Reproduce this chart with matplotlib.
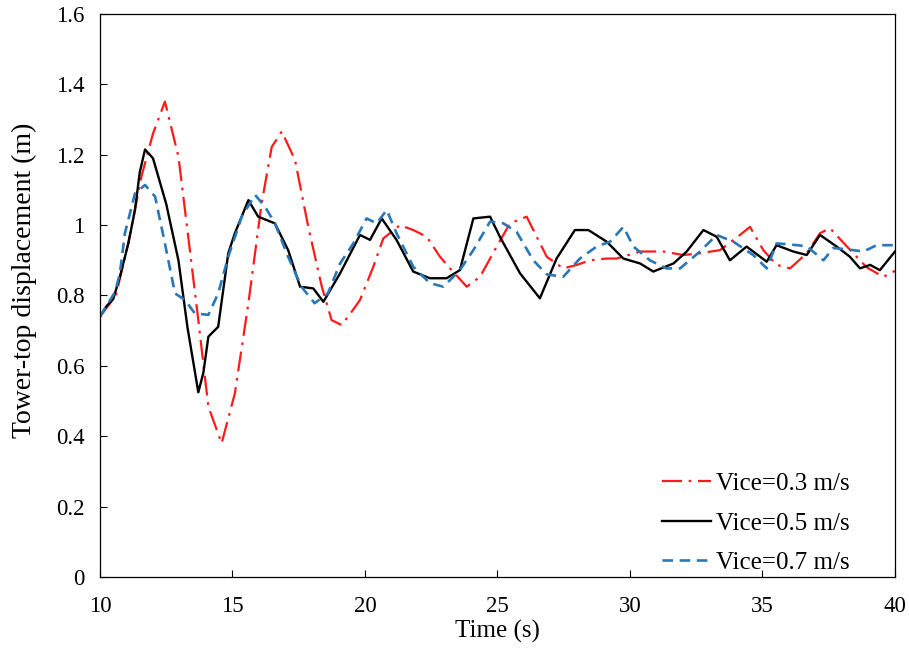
#!/usr/bin/env python3
"""
Tower-top displacement vs time for three ice speeds.
"""

import matplotlib
matplotlib.use("Agg")
import matplotlib.pyplot as plt

t_03 = [10.0, 10.6, 11.07, 11.57, 12.0, 12.45, 12.96, 13.33, 13.71, 14.09, 14.59, 15.09,
        15.6, 16.1, 16.48, 16.86, 17.36, 17.86, 18.37, 18.74, 19.12, 19.5, 19.81, 20.31,
        20.69, 21.32, 21.82, 22.33, 22.83, 23.21, 23.84, 24.34, 24.97, 25.47, 26.1, 26.48,
        26.86, 27.48, 28.0, 28.49, 29.12, 29.5, 30.38, 31.26, 32.01, 32.64, 33.4, 34.15,
        34.53, 35.03, 35.53, 36.04, 36.67, 37.17, 37.55, 38.3, 38.93, 39.56, 40.0]
v_03 = [0.74, 0.80, 0.95, 1.14, 1.26, 1.351, 1.195, 0.967, 0.73, 0.484, 0.38, 0.522,
        0.778, 1.062, 1.222, 1.266, 1.185, 0.995, 0.825, 0.73, 0.716, 0.754, 0.787, 0.881,
        0.962, 1.0, 0.986, 0.967, 0.91, 0.877, 0.825, 0.853, 0.939, 1.005, 1.024, 0.967,
        0.91, 0.877, 0.887, 0.90, 0.905, 0.905, 0.925, 0.925, 0.915, 0.92, 0.929, 0.972,
        0.995, 0.929, 0.887, 0.877, 0.92, 0.977, 0.991, 0.93, 0.88, 0.853, 0.87]

t_05 = [10.0, 10.25, 10.5, 10.75, 11.07, 11.32, 11.5, 11.7, 12.0, 12.5, 12.96, 13.3, 13.71,
        13.9, 14.09, 14.46, 14.84, 15.09, 15.6, 15.97, 16.6, 17.1, 17.55, 18.05, 18.43, 19.06,
        19.81, 20.19, 20.63, 21.19, 21.82, 22.45, 23.08, 23.58, 24.09, 24.72, 25.09, 25.85,
        26.6, 27.23, 27.92, 28.43, 29.12, 29.75, 30.38, 30.88, 31.64, 32.14, 32.77, 33.27,
        33.77, 34.4, 35.16, 35.53, 36.16, 36.67, 37.17, 37.8, 38.3, 38.68, 39.06, 39.43, 40.0]
v_05 = [0.74, 0.77, 0.79, 0.853, 0.948, 1.043, 1.15, 1.215, 1.19, 1.06, 0.90, 0.71, 0.525,
        0.58, 0.683, 0.711, 0.92, 0.977, 1.071, 1.024, 1.005, 0.929, 0.825, 0.82, 0.782, 0.863,
        0.972, 0.958, 1.019, 0.958, 0.868, 0.849, 0.849, 0.872, 1.019, 1.024, 0.967, 0.863,
        0.792, 0.905, 0.986, 0.986, 0.953, 0.905, 0.891, 0.868, 0.891, 0.925, 0.986, 0.967,
        0.90, 0.939, 0.896, 0.943, 0.925, 0.915, 0.972, 0.939, 0.91, 0.877, 0.887, 0.872, 0.925]

t_07 = [10.0, 10.57, 10.75, 10.94, 11.32, 11.7, 12.08, 12.45, 12.83, 13.21, 13.58, 14.09, 14.46,
        14.84, 15.35, 15.85, 16.23, 16.6, 17.1, 17.6, 18.1, 18.6, 19.06, 19.56, 20.06,
        20.44, 20.82, 21.19, 21.82, 22.45, 22.96, 23.58, 24.09, 24.72, 25.22, 25.72, 26.35,
        26.86, 27.48, 28.11, 28.74, 29.25, 29.75, 30.13, 30.75, 31.38, 31.89, 32.64, 33.27,
        33.9, 34.65, 35.16, 35.53, 36.04, 36.67, 37.3, 37.67, 38.3, 38.81, 39.31, 40.0]
v_07 = [0.74, 0.81, 0.863, 0.977, 1.09, 1.114, 1.081, 0.948, 0.806, 0.787, 0.749, 0.745, 0.806,
        0.91, 1.024, 1.086, 1.052, 1.005, 0.91, 0.825, 0.778, 0.806, 0.891, 0.948, 1.019,
        1.005, 1.043, 0.977, 0.882, 0.835, 0.825, 0.872, 0.929, 1.01, 1.005, 0.981, 0.90,
        0.86, 0.853, 0.905, 0.939, 0.953, 0.995, 0.939, 0.9, 0.877, 0.877, 0.925, 0.972,
        0.953, 0.915, 0.877, 0.948, 0.945, 0.94, 0.9, 0.935, 0.93, 0.925, 0.943, 0.943]

labels = ["Vice=0.3 m/s", "Vice=0.5 m/s", "Vice=0.7 m/s"]
x_ticks = [10, 15, 20, 25, 30, 35, 40]
y_ticks = [0, 0.2, 0.4, 0.6, 0.8, 1.0, 1.2, 1.4, 1.6]
y_tick_labels = ["0", "0.2", "0.4", "0.6", "0.8", "1", "1.2", "1.4", "1.6"]

plt.rcParams["font.family"] = ["Liberation Serif", "DejaVu Serif"]

fig = plt.figure(figsize=(9.09, 6.51), dpi=100)
ax = fig.add_axes([0.110, 0.1137, 0.8746, 0.8648])

ax.plot(t_03, v_03, color="#ff1a1a", linewidth=1.6, dashes=(9, 3, 1.2, 3), label=labels[0])
ax.plot(t_05, v_05, color="black", linewidth=1.7, label=labels[1])
ax.plot(t_07, v_07, color="#2a77b8", linewidth=1.9, dashes=(4, 2.5), label=labels[2])

ax.set_xlim(10, 40)
ax.set_ylim(0, 1.6)
ax.set_xticks(x_ticks)
ax.set_yticks(y_ticks)
ax.set_yticklabels(y_tick_labels)
ax.tick_params(direction="in", length=5, width=0.8, labelsize=16.5)
ax.tick_params(axis="y", pad=11)
ax.tick_params(axis="x", pad=14)
for s in ax.spines.values():
    s.set_linewidth(0.9)

ax.set_xlabel("Time (s)", fontsize=18, labelpad=2)
ax.set_ylabel("Tower-top displacement (m)", fontsize=20)
ax.yaxis.set_label_coords(-0.079, 0.527)

ax.legend(loc="lower right", bbox_to_anchor=(0.943, 0.005), frameon=False,
          fontsize=18, handlelength=1.95, handletextpad=0.2, labelspacing=0.68,
          borderpad=0, borderaxespad=0)

fig.savefig("out.png", dpi=100)
